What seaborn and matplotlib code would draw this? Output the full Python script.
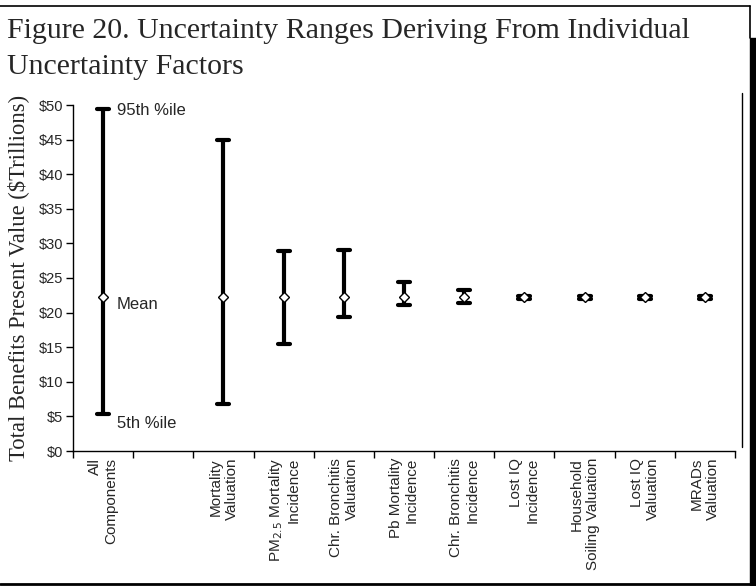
import matplotlib
matplotlib.use("Agg")
import matplotlib.pyplot as plt
from matplotlib.lines import Line2D
from matplotlib.patches import Rectangle
import numpy as np
import pandas as pd
import seaborn as sns

# Uncertainty factors (one blank slot after "All Components")
categories = [
    "All\nComponents",
    " ",
    "Mortality\nValuation",
    "PM$_{2.5}$ Mortality\nIncidence",
    "Chr. Bronchitis\nValuation",
    "Pb Mortality\nIncidence",
    "Chr. Bronchitis\nIncidence",
    "Lost IQ\nIncidence",
    "Household\nSoiling Valuation",
    "Lost IQ\nValuation",
    "MRADs\nValuation",
]
# $ trillions: 5th percentile, mean, 95th percentile (None = empty slot)
low_5th = [5.4, None, 6.8, 15.4, 19.3, 21.1, 21.4, 22.0, 22.0, 22.0, 22.0]
mean_val = [22.2, None, 22.2, 22.2, 22.2, 22.2, 22.2, 22.2, 22.2, 22.2, 22.2]
high_95th = [49.4, None, 45.0, 28.9, 29.1, 24.4, 23.2, 22.4, 22.4, 22.4, 22.4]
y_ticks = [0, 5, 10, 15, 20, 25, 30, 35, 40, 45, 50]
y_tick_labels = [f"${v}" for v in y_ticks]

rows = []
for cat, lo, mu, hi in zip(categories, low_5th, mean_val, high_95th):
    if mu is None:
        continue
    for v in (lo, mu, hi):
        rows.append({"factor": cat, "value": v})
df = pd.DataFrame(rows)

sns.set_theme(style="white")
plt.rcParams["font.family"] = ["Liberation Sans", "DejaVu Sans"]

fig = plt.figure(figsize=(7.56, 5.86), dpi=100)
ax = fig.add_axes([73 / 756, 1 - 451 / 586, (735 - 73) / 756, (451 - 105) / 586])

# median of (5th, mean, 95th) is the mean; the interval spans min..max
sns.pointplot(
    data=df, x="factor", y="value", order=categories,
    estimator="median", errorbar=lambda x: (x.min(), x.max()),
    color="black", linestyle="none", marker="D", markersize=5.5,
    markerfacecolor="white", markeredgecolor="black", markeredgewidth=1,
    capsize=0.2, err_kws={"linewidth": 3, "color": "black"},
    ax=ax,
)

# keep the mean markers above the whiskers
for ln in ax.lines:
    if ln.get_marker() in ("D", "d"):
        ln.set_zorder(5)
for coll in ax.collections:
    coll.set_zorder(5)

ax.set_xlim(-0.5, len(categories) - 0.5)
ax.set_ylim(0, 50)
ax.set_yticks(y_ticks)
ax.set_yticklabels(y_tick_labels, fontsize=10.5)
ax.set_xlabel("")
ax.set_ylabel("Total Benefits Present Value ($Trillions)",
              family="Liberation Serif", fontsize=16.3, labelpad=7)

# category labels at centres, tick marks on the boundaries
ax.set_xticks(range(len(categories)))
ax.set_xticklabels(categories, rotation=90, fontsize=11, va="top",
                   ha="center", multialignment="right")
ax.set_xticks(np.arange(-0.5, len(categories)), minor=True)
ax.tick_params(axis="x", which="major", length=0, pad=5)
ax.tick_params(axis="x", which="minor", length=5, width=1, color="black",
               direction="out", bottom=True)
ax.tick_params(axis="y", which="major", length=5, width=1, color="black",
               direction="out", left=True, pad=2)

for side in ("top", "right"):
    ax.spines[side].set_visible(False)
for side in ("left", "bottom"):
    ax.spines[side].set_color("black")
    ax.spines[side].set_linewidth(1)
ax.grid(False)

# annotations next to the All Components range
ax.text(0.23, high_95th[0] - 0.25, "95th %ile", fontsize=12, va="center")
ax.text(0.23, mean_val[0] - 1.0, "Mean", fontsize=12, va="center")
ax.text(0.23, low_5th[0] - 1.45, "5th %ile", fontsize=12, va="center")

# title
fig.text(7 / 756, 1 - 31 / 586,
         "Figure 20. Uncertainty Ranges Deriving From Individual",
         family="Liberation Serif", fontsize=21.5, va="center", ha="left")
fig.text(7 / 756, 1 - 67 / 586, "Uncertainty Factors",
         family="Liberation Serif", fontsize=21.5, va="center", ha="left")

# frame around the chart
W, H = 756, 586
def fx(px):
    return px / W
def fy(py):
    return 1 - py / H
fig.add_artist(Line2D([0, fx(750)], [fy(6), fy(6)], color="black", lw=1.2))
fig.add_artist(Line2D([fx(750), fx(750)], [fy(6), fy(38)], color="black", lw=1.2))
fig.add_artist(Line2D([0, fx(750)], [fy(584), fy(584)], color="black", lw=2))
fig.add_artist(Line2D([fx(742), fx(742)], [fy(93), fy(447)], color="black", lw=1))
fig.add_artist(Rectangle((fx(750), 0), fx(6), fy(38), color="black",
                         transform=fig.transFigure))

fig.savefig("out.png", dpi=100)
